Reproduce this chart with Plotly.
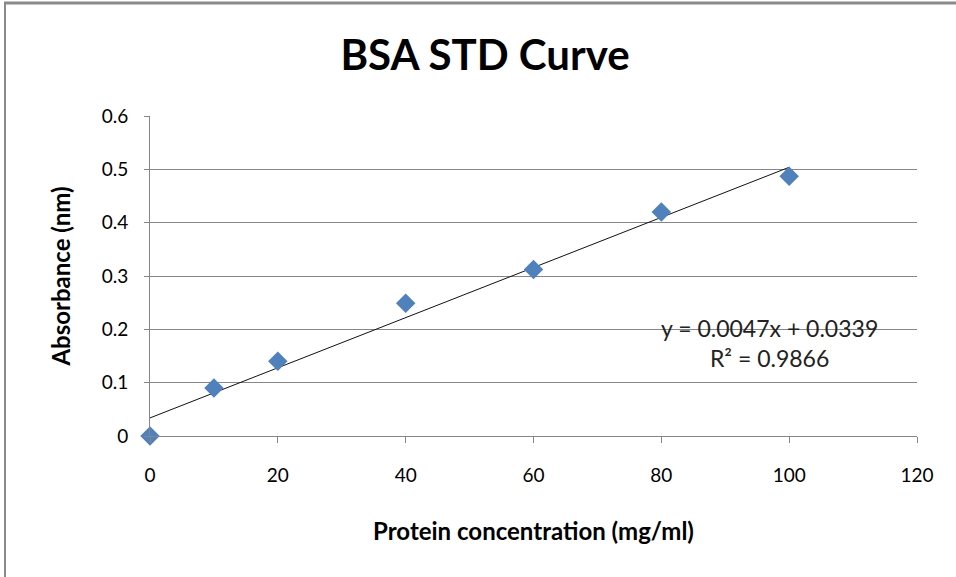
import plotly.graph_objects as go

# Data
concentration = [0, 10, 20, 40, 60, 80, 100]
absorbance = [0.0, 0.09, 0.14, 0.249, 0.312, 0.42, 0.487]
trend_coef = [0.0047, 0.0339]  # slope, intercept
trend_x = [0, 100]
r_squared = 0.9866
x_ticks = [0, 20, 40, 60, 80, 100, 120]
y_ticks = [0, 0.1, 0.2, 0.3, 0.4, 0.5, 0.6]

W, H = 956, 577
L, R, T, B = 150, 39, 116, 141
pw, ph = W - L - R, H - T - B

trend_y = [trend_coef[0] * x + trend_coef[1] for x in trend_x]

FONT = "Lato, Calibri, Carlito, sans-serif"

fig = go.Figure()
fig.add_trace(go.Scatter(
    x=trend_x, y=trend_y, mode="lines",
    line=dict(color="#111", width=1), hoverinfo="skip", showlegend=False))
fig.add_trace(go.Scatter(
    x=concentration, y=absorbance, mode="markers",
    marker=dict(symbol="diamond", size=15, color="#4F81BD", line=dict(width=0)),
    showlegend=False, cliponaxis=False))

eq_text = f"y = {trend_coef[0]}x + {trend_coef[1]}<br>R² = {r_squared:.4f}"
fig.add_annotation(
    x=(769 - L) / pw, y=(H - B - 343) / ph, xref="paper", yref="paper",
    xanchor="center", yanchor="middle",
    text=eq_text, showarrow=False, align="center",
    font=dict(family=FONT, size=23, color="#222"))

# border lines (top and left)
fig.add_shape(type="line", xref="paper", yref="paper",
              x0=(4 - L) / pw, x1=(W - L) / pw + 0.01,
              y0=1 + (T - 3) / ph, y1=1 + (T - 3) / ph,
              line=dict(color="#8a8a8a", width=3))
fig.add_shape(type="line", xref="paper", yref="paper",
              x0=(5 - L) / pw, x1=(5 - L) / pw,
              y0=1 + (T - 3) / ph, y1=-(B + 5) / ph,
              line=dict(color="#8a8a8a", width=2))

fig.update_layout(
    width=W, height=H,
    margin=dict(l=L, r=R, t=T, b=B),
    paper_bgcolor="white", plot_bgcolor="white",
    title=dict(text="<b>BSA STD Curve</b>", x=(485) / W, xanchor="center",
               y=1 - 55 / H, yanchor="middle",
               font=dict(family=FONT, size=42, color="black")),
    font=dict(family=FONT, color="black"),
)
fig.update_xaxes(
    range=[0, 120], tickvals=x_ticks, ticktext=[str(v) for v in x_ticks],
    showgrid=False, zeroline=False,
    showline=True, linecolor="#868686", linewidth=1,
    ticks="outside", ticklen=6, tickcolor="#868686",
    ticklabelstandoff=16,
    tickfont=dict(family=FONT, size=19, color="black"),
    title=dict(text="<b>Protein concentration (mg/ml)</b>", standoff=38,
               font=dict(family=FONT, size=24, color="black")),
)
fig.update_yaxes(
    range=[0, 0.6], tickvals=y_ticks, ticktext=[("%g" % v) for v in y_ticks],
    showgrid=True, gridcolor="#868686", gridwidth=1, zeroline=False,
    showline=True, linecolor="#868686", linewidth=1,
    ticks="outside", ticklen=5, tickcolor="#868686",
    ticklabelstandoff=12,
    tickfont=dict(family=FONT, size=19, color="black"),
    title=dict(text="<b>Absorbance (nm)</b>", standoff=24,
               font=dict(family=FONT, size=24, color="black")),
)

fig.write_html("out.html", config={"displayModeBar": False},
               post_script="document.body.style.margin='0px';")
